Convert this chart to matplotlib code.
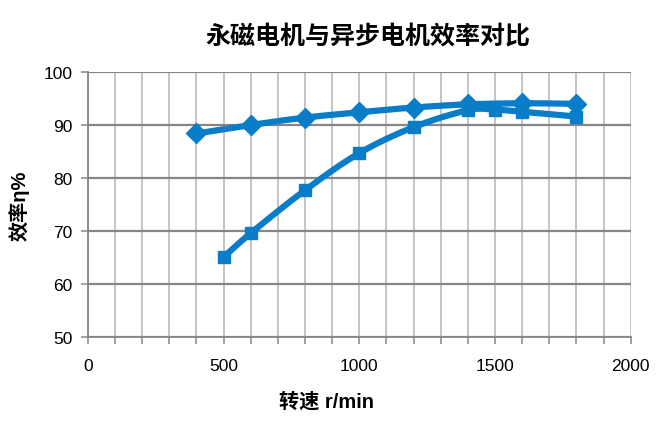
import numpy as np
import matplotlib
matplotlib.use("Agg")
import matplotlib.pyplot as plt
from matplotlib.ticker import MultipleLocator

plt.rcParams['font.family'] = ['Liberation Sans', 'Noto Sans CJK SC', 'DejaVu Sans']

title = "永磁电机与异步电机效率对比"
xlabel = "转速 r/min"
ylabel = "效率η%"

pm_speed = [400, 600, 800, 1000, 1200, 1400, 1600, 1800]
pm_eff = [88.4, 90.0, 91.4, 92.4, 93.3, 93.9, 94.1, 94.0]

async_speed = [500, 600, 800, 1000, 1200, 1400, 1500, 1600, 1800]
async_eff = [65.1, 69.6, 77.7, 84.7, 89.6, 92.8, 92.9, 92.5, 91.6]

color = '#0A7DC8'


def smooth(xs, ys, n=20):
    x = np.asarray(xs, float)
    y = np.asarray(ys, float)
    px = np.concatenate([[2 * x[0] - x[1]], x, [2 * x[-1] - x[-2]]])
    py = np.concatenate([[2 * y[0] - y[1]], y, [2 * y[-1] - y[-2]]])
    ox, oy = [], []
    for i in range(1, len(px) - 2):
        t = np.linspace(0, 1, n, endpoint=False)
        p0x, p1x, p2x, p3x = px[i - 1:i + 3]
        p0y, p1y, p2y, p3y = py[i - 1:i + 3]
        c1x, c1y = p1x + (p2x - p0x) / 6, p1y + (p2y - p0y) / 6
        c2x, c2y = p2x - (p3x - p1x) / 6, p2y - (p3y - p1y) / 6
        bx = (1 - t) ** 3 * p1x + 3 * (1 - t) ** 2 * t * c1x + 3 * (1 - t) * t ** 2 * c2x + t ** 3 * p2x
        by = (1 - t) ** 3 * p1y + 3 * (1 - t) ** 2 * t * c1y + 3 * (1 - t) * t ** 2 * c2y + t ** 3 * p2y
        ox.extend(bx)
        oy.extend(by)
    ox.append(x[-1])
    oy.append(y[-1])
    return np.array(ox), np.array(oy)


fig = plt.figure(figsize=(6.71, 4.27), dpi=100)
ax = fig.add_axes([0.131, 0.2084, 0.809, 0.6206])

ax.set_xlim(0, 2000)
ax.set_ylim(50, 100)
ax.xaxis.set_major_locator(MultipleLocator(500))
ax.xaxis.set_minor_locator(MultipleLocator(100))
ax.yaxis.set_major_locator(MultipleLocator(10))

ax.grid(which='minor', axis='x', color='#BFBFBF', linewidth=1.3)
ax.grid(which='major', axis='x', color='#BFBFBF', linewidth=1.3)
ax.grid(which='major', axis='y', color='#868686', linewidth=1.6)
ax.set_axisbelow(True)

for s in ax.spines.values():
    s.set_color('#868686')
    s.set_linewidth(1.3)
ax.spines['top'].set_visible(False)
ax.spines['right'].set_visible(False)

ax.tick_params(axis='x', which='both', direction='out', color='#868686', length=5, width=1.1,
               labelsize=12.5, pad=10)
ax.tick_params(axis='y', which='major', direction='out', color='#868686', length=5, width=1.1,
               labelsize=12.5, pad=6)
ax.tick_params(axis='y', which='minor', length=0)

sx, sy = smooth(pm_speed, pm_eff)
ax.plot(sx, sy, color=color, linewidth=4.5, solid_capstyle='round', zorder=3)
ax.plot(pm_speed, pm_eff, linestyle='none', marker='D', markersize=10, color=color, zorder=4)

sx, sy = smooth(async_speed, async_eff)
ax.plot(sx, sy, color=color, linewidth=4.5, solid_capstyle='round', zorder=3)
ax.plot(async_speed, async_eff, linestyle='none', marker='s', markersize=8.5, color=color, zorder=4)

ax.set_xlabel(xlabel, fontsize=14.5, fontweight='bold',
              family=['Liberation Sans', 'Noto Sans CJK SC'])
ax.xaxis.set_label_coords(0.44, -0.205)
ax.set_ylabel(ylabel, fontsize=14.5, fontweight='bold',
              family=['Liberation Sans', 'Noto Sans CJK SC'])
ax.yaxis.set_label_coords(-0.107, 0.5)
fig.text(0.548, 0.912, title, fontsize=18, fontweight='bold', ha='center', va='center',
         family=['Noto Sans CJK SC'])

fig.savefig('out.png', dpi=100)
